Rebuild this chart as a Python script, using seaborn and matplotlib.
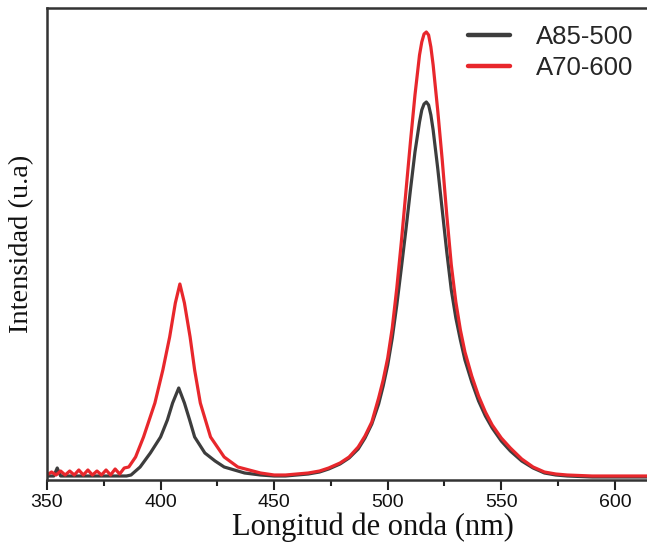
import numpy as np
import pandas as pd
import matplotlib
matplotlib.use("Agg")
import matplotlib.pyplot as plt
from matplotlib.ticker import MultipleLocator
import seaborn as sns

# ---- data ----
wl_a85 = [350, 353, 354.5, 356, 360, 365, 370, 375, 380, 385, 387, 391, 395.5, 400, 403, 405.3,
          408, 410.5, 412.8, 415, 419.5, 424, 428, 437, 444, 450, 455, 460, 465, 470, 474,
          479, 483, 487, 490, 493, 496, 498, 500, 502, 504, 506, 508, 510, 512, 514, 515,
          516, 517, 518, 519, 520, 522, 524, 526, 528, 530, 532, 534, 537, 540, 543, 546,
          550, 554, 559, 564, 569, 574, 579, 590, 600, 617]
int_a85 = [4, 4, 12, 4, 4, 4, 4, 4, 4, 4, 5, 13, 27, 43, 60, 77,
           92, 77, 60, 43, 27, 19, 13, 7, 5, 4, 4, 5, 6, 8, 11,
           16, 22, 31, 42, 56, 76, 94, 115, 142, 175, 212, 250, 290, 328, 358, 370,
           376, 378, 375, 365, 350, 312, 270, 228, 190, 162, 140, 120, 98, 79, 64, 52,
           39, 29, 19, 12, 7, 5, 4, 3, 3, 3]

wl_a70 = [350, 352, 354, 356, 358, 360, 362, 364, 366, 368, 370, 372, 374, 376, 378, 380,
          382, 384, 386, 389, 392.5, 397.5, 401, 404, 406.5, 408.5, 410.5, 413, 415, 417.5,
          422, 428, 434, 444, 450, 455, 460, 465, 470, 474, 479, 483, 487, 490, 493, 496,
          498, 500, 502, 504, 506, 508, 510, 512, 514, 515, 516, 517, 518, 519, 520, 522,
          524, 526, 528, 530, 532, 534, 537, 540, 543, 546, 550, 554, 559, 564, 569, 574,
          579, 590, 600, 617]
int_a70 = [5, 8, 5, 9, 5, 9, 5, 10, 5, 10, 5, 9, 5, 10, 5, 11,
           6, 12, 13, 23, 43, 77, 110, 143, 177, 196, 177, 143, 110, 77,
           43, 23, 13, 7, 5, 5, 6, 7, 9, 12, 17, 23, 33, 44, 58, 82,
           100, 122, 152, 192, 238, 288, 338, 385, 425, 438, 446, 448, 445, 433, 415, 370,
           320, 265, 215, 178, 150, 128, 104, 84, 68, 55, 42, 32, 21, 13, 8, 6,
           5, 4, 4, 4]

series_names = ["A85-500", "A70-600"]
x_ticks = [350, 400, 450, 500, 550, 600]

df = pd.concat([
    pd.DataFrame({"wl": wl_a85, "I": int_a85, "Muestra": series_names[0]}),
    pd.DataFrame({"wl": wl_a70, "I": int_a70, "Muestra": series_names[1]}),
], ignore_index=True)

# ---- style ----
sns.set_style("ticks")
plt.rcParams["font.family"] = ["Liberation Sans", "DejaVu Sans"]

fig = plt.figure(figsize=(6.47, 5.44), dpi=100)
ax = fig.add_axes([47 / 647, 1 - 480 / 544, 1 - 47 / 647 + 0.01, (480 - 8) / 544])

palette = {"A85-500": "#3d3d3d", "A70-600": "#e8272c"}
sns.lineplot(data=df, x="wl", y="I", hue="Muestra", palette=palette, ax=ax,
             linewidth=2.3, sort=False, estimator=None)

ax.set_xlim(350, 617)
ax.set_ylim(0, 472)
ax.set_xticks(x_ticks)
ax.xaxis.set_minor_locator(MultipleLocator(25))
ax.set_yticks([])
ax.tick_params(axis="x", which="major", direction="out", length=7, width=1.5,
               labelsize=14, colors="#222222", labelcolor="#111111", pad=3)
ax.tick_params(axis="x", which="minor", direction="out", length=4, width=1.5, colors="#222222")

for s in ["left", "bottom", "top"]:
    ax.spines[s].set_linewidth(1.8)
    ax.spines[s].set_color("#333333")
ax.spines["right"].set_visible(False)

ax.set_xlabel("Longitud de onda (nm)", family=["Liberation Serif"], fontsize=22,
              labelpad=1, color="#111111", x=0.537)
ax.set_ylabel("Intensidad (u.a)", family=["Liberation Serif"], fontsize=20.5,
              labelpad=9, color="#111111")

leg = ax.legend(loc="upper right", frameon=False, fontsize=18.5, handlelength=1.65,
                handletextpad=1.0, labelspacing=0.25, borderaxespad=0.0,
                bbox_to_anchor=(0.984, 0.985))
for line in leg.get_lines():
    line.set_linewidth(3.2)

fig.savefig("out.png", dpi=100, facecolor="white")
